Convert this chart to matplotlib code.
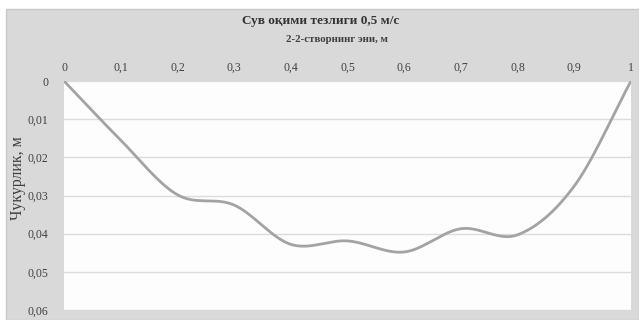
import matplotlib.pyplot as plt
from matplotlib.patches import Rectangle
from matplotlib.ticker import FuncFormatter
import numpy as np

# створ width (m) and depth (m)
width_m = [0, 0.1, 0.2, 0.3, 0.4, 0.5, 0.6, 0.7, 0.8, 0.9, 1.0]
depth_m = [0, 0.0155, 0.0298, 0.0325, 0.0428, 0.0419, 0.0448, 0.0387, 0.0403, 0.0275, 0]

x_ticks = [0, 0.1, 0.2, 0.3, 0.4, 0.5, 0.6, 0.7, 0.8, 0.9, 1.0]
y_ticks = [0, 0.01, 0.02, 0.03, 0.04, 0.05, 0.06]

title = 'Сув оқими тезлиги 0,5 м/с'
x_label = '2-2-створнинг эни, м'
y_label = 'Чукурлик, м'


def catmull_rom(xs, ys, n=30):
    # smooth line through the points, similar to Excel's smoothed line
    px = np.array(xs, dtype=float)
    py = np.array(ys, dtype=float)
    px = np.concatenate([[2 * px[0] - px[1]], px, [2 * px[-1] - px[-2]]])
    py = np.concatenate([[2 * py[0] - py[1]], py, [2 * py[-1] - py[-2]]])
    out_x, out_y = [], []
    t = np.linspace(0, 1, n, endpoint=False)
    for i in range(1, len(px) - 2):
        for arr, out in ((px, out_x), (py, out_y)):
            p0, p1, p2, p3 = arr[i - 1], arr[i], arr[i + 1], arr[i + 2]
            seg = 0.5 * ((2 * p1) + (-p0 + p2) * t
                         + (2 * p0 - 5 * p1 + 4 * p2 - p3) * t ** 2
                         + (-p0 + 3 * p1 - 3 * p2 + p3) * t ** 3)
            out.extend(seg)
    out_x.append(xs[-1])
    out_y.append(ys[-1])
    return out_x, out_y


plt.rcParams['font.family'] = ['Liberation Serif', 'DejaVu Serif']

fig = plt.figure(figsize=(6.39, 3.2), dpi=100)
fig.patch.set_facecolor('white')
fig.patches.append(Rectangle((6 / 639, 0), 1 - 6 / 639, 1 - 9 / 320,
                             transform=fig.transFigure, facecolor='#d9d9d9',
                             edgecolor='#c8c8c8', linewidth=1, zorder=-10))

ax = fig.add_axes([64 / 639, 1 - 310 / 320, (631 - 64) / 639, (310 - 81) / 320])
ax.set_zorder(1)
ax.set_facecolor('#fdfdfd')

sx, sy = catmull_rom(width_m, depth_m)
ax.plot(sx, sy, color='#a3a3a3', linewidth=2, solid_capstyle='round', zorder=3)

ax.set_xlim(0, 1)
ax.set_ylim(0.06, 0)
ax.set_xticks(x_ticks)
ax.set_yticks(y_ticks)
fmt = FuncFormatter(lambda v, p: ('%g' % round(v, 3)).replace('.', ','))
ax.xaxis.set_major_formatter(fmt)
ax.yaxis.set_major_formatter(fmt)
ax.xaxis.tick_top()
ax.tick_params(length=0, labelsize=8.5, colors='#404040')
ax.tick_params(axis='x', pad=5)
ax.tick_params(axis='y', pad=11)
ax.grid(axis='y', color='#dcdcdc', linewidth=1)
ax.set_axisbelow(True)
for s in ax.spines.values():
    s.set_visible(False)

ax.set_ylabel(y_label, fontsize=11.5, color='#404040')
ax.yaxis.set_label_coords(-38 / 567, 0.576)

fig.text(321 / 639, 1 - 21 / 320, title, ha='center', va='center',
         fontsize=9.5, fontweight='bold', color='#333333')
fig.text(337 / 639, 1 - 40 / 320, x_label, ha='center', va='center',
         fontsize=7.8, fontweight='bold', color='#404040')

fig.savefig('out.png', dpi=100, facecolor=fig.get_facecolor())
